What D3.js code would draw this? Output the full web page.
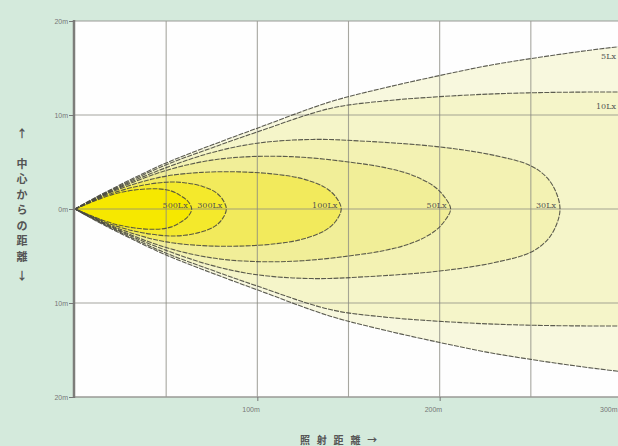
<!DOCTYPE html>
<html><head><meta charset="utf-8">
<script src="https://cdn.jsdelivr.net/npm/d3@7"></script>
<style>
html,body{margin:0;padding:0;background:#d4eadc;overflow:hidden;}
svg{display:block;}
</style></head>
<body>
<svg id="chart" width="618" height="446"></svg>
<script>
// ---- data (distance m, half-width m) for upper half of each isolux contour ----
const luxLabels = ["5Lx","10Lx","30Lx","50Lx","100Lx","300Lx","500Lx"];
const contour5   = [[0,0],[10,1.1],[25,2.6],[50,4.9],[75,6.8],[100,8.6],[140,11.4],[170,12.9],[200,14.2],[225,15.2],[250,16.0],[275,16.7],[300,17.3],[325,17.7],[350,18.0]];
const contour10  = [[0,0],[10,1.05],[25,2.5],[50,4.7],[75,6.5],[100,8.2],[140,10.7],[170,11.5],[200,11.95],[230,12.25],[260,12.4],[290,12.45],[320,12.45],[350,12.45]];
const contour30  = [[0,0],[10,1.0],[25,2.4],[50,4.4],[75,6.0],[100,7.0],[130,7.4],[160,7.2],[200,6.6],[230,5.7],[250,4.6],[259,3.3],[264,1.7],[266,0]];
const contour50  = [[0,0],[10,0.95],[25,2.3],[50,4.1],[75,5.2],[100,5.6],[125,5.5],[150,5.0],[170,4.4],[185,3.6],[197,2.4],[203,1.2],[206,0]];
const contour100 = [[0,0],[10,0.9],[20,1.8],[35,2.8],[50,3.5],[70,3.9],[90,3.95],[110,3.7],[125,3.2],[137,2.3],[143,1.3],[146,0]];
const contour300 = [[0,0],[10,0.85],[20,1.65],[35,2.45],[50,2.85],[60,2.8],[70,2.4],[77,1.8],[81,1.0],[83,0]];
const contour500 = [[0,0],[10,0.8],[20,1.5],[32,2.0],[45,2.15],[53,1.9],[58,1.4],[62,0.8],[64,0]];
const contours = [contour5, contour10, contour30, contour50, contour100, contour300, contour500];
const fills = ["#f8f8de","#f5f5c9","#f3f2b3","#f1ee98","#f2ea5c","#f4e92c","#f6e800"];

const xGrid = [50,100,150,200,250];
const yGrid = [-10,0,10];
const xTicks = [100,200,300];
const xTickLabels = ["100m","200m","300m"];
const yTicks = [20,10,0,-10,-20];
const yTickLabels = ["20m","10m","0m","10m","20m"];
const yTitleChars = ["↑","中","心","か","ら","の","距","離","↓"];
const xTitle = "照 射 距 離 →";

// ---- scales ----
const svg = d3.select("#chart");
const x = d3.scaleLinear().domain([0,300]).range([75,622]);
const y = d3.scaleLinear().domain([-20,20]).range([397,21]);

svg.append("rect").attr("x",x(0)).attr("y",y(20)).attr("width",x(300)-x(0)).attr("height",y(-20)-y(20)).attr("fill","#fefefe");

svg.append("clipPath").attr("id","clip").append("rect")
  .attr("x",x(0)).attr("y",y(20)).attr("width",x(300)-x(0)).attr("height",y(-20)-y(20));

const g = svg.append("g").attr("clip-path","url(#clip)");

const line = d3.line().x(d=>x(d[0])).y(d=>y(d[1])).curve(d3.curveCatmullRom.alpha(0.5));
function loop(pts){
  const lower = pts.slice().reverse().map(p=>[p[0],-p[1]]);
  const tipZero = pts[pts.length-1][1]===0;
  return tipZero ? pts.concat(lower.slice(1)) : pts.concat(lower);
}

contours.forEach((c,i)=>{
  g.append("path").attr("d",line(loop(c))).attr("fill",fills[i]).attr("stroke","none");
});

g.selectAll("line.vg").data(xGrid).enter().append("line")
  .attr("x1",d=>x(d)).attr("x2",d=>x(d)).attr("y1",y(20)).attr("y2",y(-20))
  .attr("stroke","#8a8a80").attr("stroke-opacity",0.75).attr("stroke-width",1.1);
g.selectAll("line.hg").data(yGrid).enter().append("line")
  .attr("x1",x(0)).attr("x2",x(300)).attr("y1",d=>y(d)).attr("y2",d=>y(d))
  .attr("stroke","#8a8a80").attr("stroke-opacity",0.75).attr("stroke-width",1.1);

contours.forEach((c,i)=>{
  g.append("path").attr("d",line(loop(c))).attr("fill","none")
    .attr("stroke","#4a4a40").attr("stroke-width",1.1).attr("stroke-dasharray","5,1.2").attr("stroke-opacity",0.9);
});

svg.append("line").attr("x1",x(0)).attr("x2",x(300)).attr("y1",y(20)).attr("y2",y(20)).attr("stroke","#9a9a96").attr("stroke-width",1.2);
svg.append("line").attr("x1",x(0)).attr("x2",x(300)).attr("y1",y(-20)).attr("y2",y(-20)).attr("stroke","#9a9a96").attr("stroke-width",1.4);
svg.append("line").attr("x1",x(0)-1).attr("x2",x(0)-1).attr("y1",y(20)-1).attr("y2",y(-20)+1).attr("stroke","#7d7d7a").attr("stroke-width",2.5);

const labelText = svg.append("g").attr("font-family","'DejaVu Serif', 'Liberation Serif', serif").attr("font-size",8).attr("fill","#555");
contours.forEach((c,i)=>{
  if(i<2){
    const atEdge = c.find(p=>p[0]>=300);
    labelText.append("text").attr("x",x(300)-6).attr("y",y(atEdge[1])+ (i===0?13:17))
      .attr("text-anchor","end").text(luxLabels[i]);
  } else {
    const tip = c[c.length-1][0];
    labelText.append("text").attr("x",x(tip)-4).attr("y",y(0)-1)
      .attr("text-anchor","end").text(luxLabels[i]);
  }
});

const yAxis = d3.axisLeft(y).tickValues(yTicks).tickFormat((d,i)=>yTickLabels[i]).tickSize(6).tickPadding(1);
const ya = svg.append("g").attr("transform",`translate(${x(0)},0)`).call(yAxis);
ya.select(".domain").remove();
ya.selectAll(".tick line").attr("stroke","#777");
ya.selectAll(".tick text").attr("fill","#777").attr("font-size",7).attr("font-family","'Liberation Sans', sans-serif");

const xAxis = d3.axisBottom(x).tickValues(xTicks).tickFormat((d,i)=>xTickLabels[i]).tickSize(4).tickPadding(6);
const xa = svg.append("g").attr("transform",`translate(0,${y(-20)})`).call(xAxis);
xa.select(".domain").remove();
xa.selectAll(".tick line").attr("stroke","#777");
xa.selectAll(".tick text").attr("fill","#777").attr("font-size",7).attr("font-family","'Liberation Sans', sans-serif")
  .attr("text-anchor","end").attr("dx",(d,i)=> i===xTicks.length-1 ? -5 : 2);

const yStep = 15.5;
svg.append("g").selectAll("text").data(yTitleChars).enter().append("text")
  .attr("x",22).attr("y",(d,i)=>135 + (i===0?0: (i===yTitleChars.length-1 ? 142 : 30 + (i-1)*yStep)))
  .attr("text-anchor","middle").attr("dominant-baseline","middle")
  .attr("font-family","'Noto Sans CJK JP', sans-serif").attr("font-size",11).attr("font-weight","bold")
  .attr("fill","#555").text(d=>d);

svg.append("text").attr("x",300).attr("y",444).attr("font-family","'Noto Sans CJK JP', sans-serif")
  .attr("font-size",10).attr("font-weight","bold").attr("fill","#555")
  .style("white-space","pre").text(xTitle.replace(/ /g,"   "));
</script>
</body></html>
